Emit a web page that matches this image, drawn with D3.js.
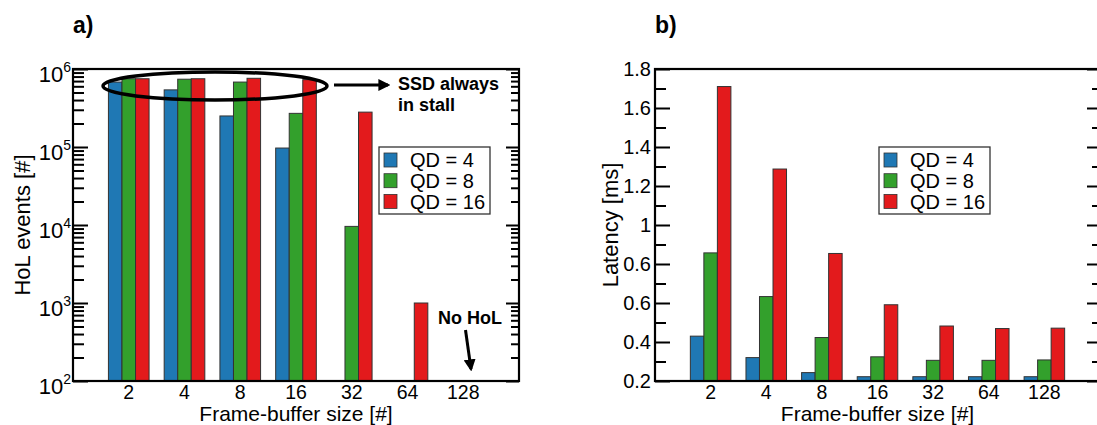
<!DOCTYPE html>
<html>
<head>
<meta charset="utf-8">
<script src="https://cdn.jsdelivr.net/npm/d3@7"></script>
<style>
  body { margin: 0; background: #fff; }
  text { font-family: "Liberation Sans", Arial, Helvetica, sans-serif; fill: #000; }
</style>
</head>
<body>
<svg id="chart" width="1097" height="425"></svg>
<script>
// categories / series
const categories = ["2", "4", "8", "16", "32", "64", "128"];
const seriesNames = ["QD = 4", "QD = 8", "QD = 16"];
const seriesColors = ["#1f78b4", "#33a02c", "#e31a1c"];

// a) HoL events, null = no bar
const holQD4 = [6.8e5, 5.4e5, 2.5e5, 9.7e4, null, null, null];
const holQD8 = [7.5e5, 7.4e5, 6.8e5, 2.7e5, 9.6e3, null, null];
const holQD16 = [7.5e5, 7.5e5, 7.6e5, 7.3e5, 2.8e5, 1.0e3, null];

// b) latency [ms]
const latQD4 = [0.43, 0.32, 0.243, 0.222, 0.222, 0.222, 0.222];
const latQD8 = [0.857, 0.633, 0.423, 0.324, 0.306, 0.306, 0.308];
const latQD16 = [1.71, 1.287, 0.854, 0.591, 0.482, 0.469, 0.471];

// ticks
const holMajor = [1e2, 1e3, 1e4, 1e5, 1e6];
const holExp = ["2", "3", "4", "5", "6"];
const latMajor = [0.2, 0.4, 0.6, 0.8, 1.0, 1.2, 1.4, 1.6, 1.8];
const latMajorLabels = ["0.2", "0.4", "0.6", "0.6", "1", "1.2", "1.4", "1.6", "1.8"];
const latMinor = [0.3, 0.5, 0.7, 0.9, 1.1, 1.3, 1.5, 1.7];

let svg = d3.select("#chart");

// arrow head
svg.append("defs").append("marker")
  .attr("id", "arrow")
  .attr("viewBox", "0 0 10 10")
  .attr("refX", 8).attr("refY", 5)
  .attr("markerWidth", 4).attr("markerHeight", 4)
  .attr("markerUnits", "strokeWidth")
  .attr("orient", "auto")
  .append("path")
  .attr("d", "M0,0 L10,5 L0,10 Z")
  .attr("fill", "#000");

function drawPanel(p) {
  let g = svg.append("g");

  let x = d3.scaleBand()
    .domain(categories)
    .range([p.left, p.right])
    .paddingInner(0)
    .paddingOuter(0.5);
  let bw = x.bandwidth() * 0.243;
  let xs = d3.scaleBand().domain(seriesNames).range([-1.5 * bw, 1.5 * bw]);
  let y = p.y.range([p.bottom, p.top]);
  let base = p.y.domain()[0];

  // bars
  p.series.forEach((vals, j) => {
    g.append("g")
      .selectAll("rect")
      .data(vals.map((v, i) => ({ cat: categories[i], v: v })).filter(d => d.v != null))
      .enter()
      .append("rect")
      .attr("x", d => x(d.cat) + x.bandwidth() / 2 + xs(seriesNames[j]))
      .attr("width", xs.bandwidth())
      .attr("y", d => y(d.v))
      .attr("height", d => y(base) - y(d.v))
      .attr("fill", seriesColors[j])
      .attr("stroke", "#333")
      .attr("stroke-width", 1);
  });

  // minor ticks, inside on both sides
  let minorL = d3.axisLeft(y).tickValues(p.minor).tickSize(-11).tickFormat("");
  let minorR = d3.axisRight(y).tickValues(p.minor).tickSize(-8).tickFormat("");
  g.append("g").attr("transform", `translate(${p.left},0)`).call(minorL);
  g.append("g").attr("transform", `translate(${p.right},0)`).call(minorR);

  // major ticks
  let majorL = d3.axisLeft(y).tickValues(p.major).tickSize(-15).tickPadding(p.pad)
    .tickFormat((d, i) => p.labels[i]);
  let majorR = d3.axisRight(y).tickValues(p.major).tickSize(-13).tickFormat("");
  let yl = g.append("g").attr("transform", `translate(${p.left},0)`).call(majorL);
  g.append("g").attr("transform", `translate(${p.right},0)`).call(majorR);
  yl.selectAll("text").style("font-size", "20px");
  if (p.sup) {
    yl.selectAll("text").each(function(d, i) {
      let t = d3.select(this).text(null).attr("dy", "12px").style("font-size", "22px");
      t.append("tspan").text("10");
      t.append("tspan").attr("dy", "-10px").style("font-size", "14px").text(p.sup[i]);
    });
  }

  // x axis labels
  let xa = g.append("g")
    .attr("transform", `translate(0,${p.bottom})`)
    .call(d3.axisBottom(x).tickSize(0).tickPadding(4));
  xa.selectAll("text").style("font-size", "19.5px");

  g.selectAll(".domain").remove();
  g.selectAll(".tick line").attr("stroke", "#000").attr("stroke-width", 2);

  // frame
  g.append("rect")
    .attr("x", p.left).attr("y", p.top)
    .attr("width", p.right - p.left).attr("height", p.bottom - p.top)
    .attr("fill", "none").attr("stroke", "#000").attr("stroke-width", 2.2);

  // axis titles
  g.append("text")
    .attr("transform", `translate(${(p.left + p.right) / 2},420.6)`)
    .attr("text-anchor", "middle")
    .style("font-size", "21px")
    .text("Frame-buffer size [#]");
  g.append("text")
    .attr("transform", `translate(${p.ylabX},${(p.top + p.bottom) / 2}) rotate(-90)`)
    .attr("text-anchor", "middle")
    .style("font-size", "22px")
    .text(p.ylabel);

  // panel letter
  g.append("text")
    .attr("x", p.left).attr("y", 33)
    .style("font-size", "23px").style("font-weight", "bold")
    .text(p.letter);

  // legend
  let lg = g.append("g").attr("transform", `translate(${p.legX},147)`);
  lg.append("rect").attr("width", 111).attr("height", 67)
    .attr("fill", "#fff").attr("stroke", "#333").attr("stroke-width", 1.3);
  seriesNames.forEach((s, j) => {
    lg.append("rect")
      .attr("x", 5).attr("y", 6 + j * 20.7)
      .attr("width", 13).attr("height", 14)
      .attr("fill", seriesColors[j]).attr("stroke", "#333").attr("stroke-width", 0.8);
    lg.append("text")
      .attr("x", 31).attr("y", 13 + j * 20.7).attr("dy", "0.36em")
      .style("font-size", "20px")
      .text(s);
  });

  return { x: x, y: y, g: g };
}

let pa = drawPanel({
  left: 73, right: 519, top: 69, bottom: 381,
  y: d3.scaleLog().domain([1e2, 1e6]),
  series: [holQD4, holQD8, holQD16],
  major: holMajor,
  labels: holMajor.map(d => ""),
  sup: holExp,
  minor: d3.range(2, 6).flatMap(e => d3.range(2, 10).map(k => k * Math.pow(10, e))),
  pad: 2,
  ylabel: "HoL events [#]",
  ylabX: 30,
  letter: "a)",
  legX: 379
});

let pb = drawPanel({
  left: 655, right: 1100, top: 69, bottom: 381,
  y: d3.scaleLinear().domain([0.2, 1.8]),
  series: [latQD4, latQD8, latQD16],
  major: latMajor,
  labels: latMajorLabels,
  minor: latMinor,
  pad: 4,
  ylabel: "Latency [ms]",
  ylabX: 618,
  letter: "b)",
  legX: 879
});

// annotations on panel a
let ann = pa.g.append("g");
ann.append("ellipse")
  .attr("cx", 215).attr("cy", 86).attr("rx", 112).attr("ry", 14)
  .attr("fill", "none").attr("stroke", "#000").attr("stroke-width", 3.5);
ann.append("line")
  .attr("x1", 334).attr("y1", 85).attr("x2", 388).attr("y2", 85)
  .attr("stroke", "#000").attr("stroke-width", 3).attr("marker-end", "url(#arrow)");
ann.append("text").attr("x", 398).attr("y", 90)
  .style("font-size", "18px").style("font-weight", "bold").text("SSD always");
ann.append("text").attr("x", 398).attr("y", 110.5)
  .style("font-size", "18px").style("font-weight", "bold").text("in stall");
ann.append("text").attr("x", 438).attr("y", 324)
  .style("font-size", "18px").style("font-weight", "bold").text("No HoL");
ann.append("line")
  .attr("x1", 465.5).attr("y1", 330).attr("x2", 471).attr("y2", 369)
  .attr("stroke", "#000").attr("stroke-width", 3).attr("marker-end", "url(#arrow)");
</script>
</body>
</html>
